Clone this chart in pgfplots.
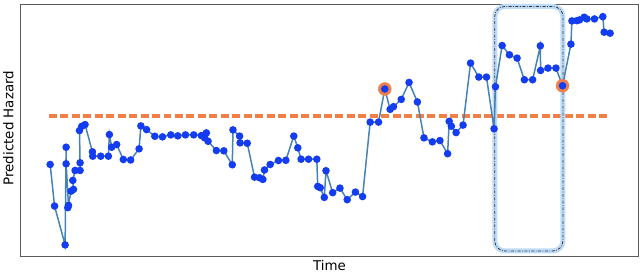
\documentclass[border=0pt]{standalone}
\usepackage{fontspec}
\setmainfont{DejaVu Sans}
\usepackage{pgfplots}
\pgfplotsset{compat=1.18}
\definecolor{linec}{RGB}{70,130,180}
\definecolor{markc}{RGB}{20,60,240}
\definecolor{orangec}{RGB}{240,128,72}
\definecolor{glowc}{RGB}{190,220,250}
\definecolor{framec}{RGB}{90,90,90}
\begin{document}
\begin{tikzpicture}
\begin{axis}[
  scale only axis,
  width=619bp, height=252bp,
  xmin=19, xmax=638, ymin=5, ymax=257,
  y dir=reverse,
  xtick=\empty, ytick=\empty,
  axis line style={framec, line width=1bp},
  clip=false,
  xlabel={Time}, ylabel={Predicted Hazard},
  every axis x label/.style={at={(axis cs:328.5,271.5)}, anchor=base, font=\fontsize{13.5}{16}\selectfont},
  every axis y label/.style={at={(axis cs:6.5,128.5)}, anchor=center, rotate=90, font=\fontsize{13.5}{16}\selectfont},
]
\path (axis cs:0,0) rectangle (axis cs:640,273);
% threshold
\addplot[orangec, line width=3.2bp, dash pattern=on 8bp off 3.5bp] coordinates {(47,116.3) (609,116.3)};
% highlight box
\draw[glowc, line width=5bp, rounded corners=10bp] (axis cs:494.3,251.7) rectangle (axis cs:562.7,6.5);
\draw[black!80, line width=0.8bp, dash pattern=on 3bp off 1.5bp on 0.8bp off 1.5bp, rounded corners=10bp] (axis cs:494.3,251.7) rectangle (axis cs:562.7,6.5);
% highlighted points
\addplot[only marks, mark=*, mark size=6.5bp, mark options={draw=orangec, fill=orangec}] coordinates {(384,89.3) (562.3,86)};
% series
\addplot[linec, line width=1.5bp, mark=*, mark size=3bp, mark options={draw=markc, fill=markc}] coordinates {
(48.3,165) (52.7,206.7) (63.3,245.7) (64.3,147.7) (64.3,164.3) (66.7,206) (66,208.3)
(69.3,191.7) (71.7,190) (71,181) (73.3,171) (78.3,171) (78.3,163.3) (77.7,131)
(80,126.7) (83.3,125) (90.7,152.3) (91,156.7) (99,156.7) (106.7,156.7) (107.7,135)
(110,147.7) (115,145) (121.7,160) (129,160.5) (137.5,149.3) (139.3,126.3) (145,130)
(153.3,136.7) (161,137.3) (169.3,135.3) (176.3,136.3) (184,135.3) (192.3,135.3) (200,136)
(205,133.3) (203.3,138.3) (206.7,141.7) (215,151) (222.5,151.3) (231,165.3) (231.7,130.3)
(238.3,136.5) (238.8,143.3) (246,143.7) (253.3,177.7) (258.3,178.3) (261.7,180) (263.3,170.5)
(269,165) (277.3,161) (284.7,160.8) (292.7,136.5) (296.7,148.3) (300,159.7) (307.5,159.7)
(315.8,159.7) (316.7,187) (319.2,188.3) (323.3,198) (325,171.3) (331.7,193.3) (339,188.7)
(346.3,200.3) (354.5,192.7) (361.7,197.2) (369.3,122.5) (377.7,122.5) (384,89.3) (389.3,109.7)
(392.7,107) (400.5,99.7) (408.3,82.7) (416.7,102.3) (423.3,138.3) (431.7,142.3) (439.3,141)
(447,154.2) (448.6,121.7) (450.8,126.6) (455.5,133) (462.5,125.5) (470,63.3) (478.3,77.3)
(486,77.3) (493.6,129.2) (495,87) (501.7,45.7) (509,55) (516.7,58.3) (524,80)
(532.3,80) (540,46) (540.3,70.7) (547.7,68.3) (555.7,68.3) (562.3,86) (570.7,44.3)
(571.7,21) (576.7,20.7) (579.3,20) (584,17.3) (586.7,19) (594.3,19) (602.7,16.7)
(604,32.3) (610,33.3)
};
\end{axis}
\end{tikzpicture}
\end{document}
